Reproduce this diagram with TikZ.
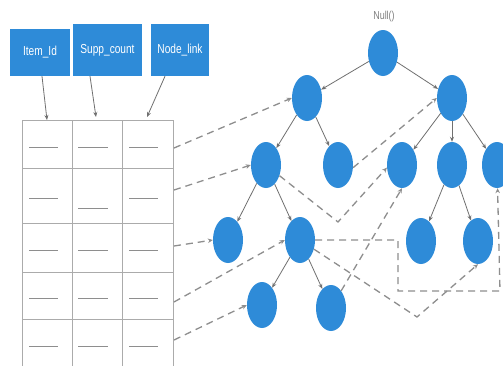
\documentclass[tikz,border=0pt]{standalone}
\usepackage{fontspec}
\setmainfont{Liberation Sans}
\usetikzlibrary{shapes.geometric,arrows.meta}
\definecolor{nodeblue}{HTML}{2E8BD8}
\definecolor{linegray}{HTML}{707070}
\definecolor{dashgray}{HTML}{8E8E8E}
\definecolor{tablegray}{HTML}{ABABAB}
\begin{document}
\begin{tikzpicture}[x=1pt,y=-1pt,
  tnode/.style={ellipse,fill=nodeblue,minimum width=30pt,minimum height=46pt,inner sep=0pt},
  hdr/.style={fill=nodeblue,text=white,inner sep=0pt,font=\fontsize{13}{13}\selectfont},
  solidarrow/.style={draw=linegray,line width=0.8pt,-{Stealth[length=5pt,width=4pt]}},
  linkarrow/.style={draw=dashgray,line width=1.3pt,dash pattern=on 7pt off 5pt,-{Stealth[length=5pt,width=4.5pt]}},
  cellmark/.style={draw=dashgray,line width=1pt},
  tableline/.style={draw=tablegray,line width=1pt}]
\useasboundingbox[fill=white] (0,0) rectangle (503,365);

% header boxes
\node[hdr,minimum width=60pt,minimum height=47pt] (h1) at (40,52.5) {\scalebox{0.78}[1]{Item\_Id}};
\node[hdr,minimum width=69pt,minimum height=52pt] (h2) at (107.5,50) {\scalebox{0.78}[1]{Supp\_count}};
\node[hdr,minimum width=58pt,minimum height=52pt] (h3) at (180,50) {\scalebox{0.78}[1]{Node\_link}};

% table
\draw[tableline] (22,120) -- (173,120);
\foreach \yy in {168,223,272,319} \draw[tableline] (22,\yy) -- (173,\yy);
\foreach \xx in {22,72,122,173} \draw[tableline] (\xx,120) -- (\xx,366);
\foreach \yy in {147,250,298,346} {
  \draw[cellmark] (29,\yy) -- (58,\yy);
  \draw[cellmark] (78,\yy) -- (108,\yy);
  \draw[cellmark] (129,\yy) -- (158,\yy);
}
\draw[cellmark] (29,198) -- (58,198);
\draw[cellmark] (78,208) -- (108,208);
\draw[cellmark] (129,198) -- (158,198);

\coordinate (t1) at (47,120);
\coordinate (t2) at (96,117);
\coordinate (t3) at (147,117);
\coordinate (r1) at (174,148);
\coordinate (r2) at (174,190);
\coordinate (r3) at (174,246);
\coordinate (r4) at (174,302);
\coordinate (r5) at (174,340);

\draw[solidarrow] ([xshift=2pt]h1.south) -- (t1);
\draw[solidarrow] ([xshift=-17.5pt]h2.south) -- (t2);
\draw[solidarrow] ([xshift=-15pt]h3.south) -- (t3);

% tree
\node[text=gray,font=\fontsize{11.5}{11.5}\selectfont] (nulllabel) at (384,17) {\scalebox{0.78}[1]{Null()}};
\node[tnode] (root) at (383,53) {};
\node[tnode] (a) at (307,98) {};
\node[tnode] (b) at (452,98) {};
\node[tnode] (c) at (266,165) {};
\node[tnode] (d) at (338,165) {};
\node[tnode] (e) at (402,165) {};
\node[tnode] (f) at (452,165) {};
\node[tnode] (g) at (497,165) {};
\node[tnode] (h) at (228,240) {};
\node[tnode] (i) at (300,240) {};
\node[tnode] (j) at (421,241) {};
\node[tnode] (k) at (478,241) {};
\node[tnode] (l) at (262,305) {};
\node[tnode] (m) at (331,308) {};

\foreach \p/\q in {root/a,root/b,a/c,a/d,b/e,b/f,b/g,c/h,c/i,f/j,f/k,i/l,i/m}
  \draw[solidarrow] (\p) -- (\q);

% node links
\draw[linkarrow] (r1) -- (a.west);
\draw[linkarrow] (r2) -- (c.west);
\draw[linkarrow] (r3) -- (h.west);
\draw[linkarrow] (r4) -- (i.west);
\draw[linkarrow] (r5) -- (l.west);
\draw[linkarrow] (c) -- (338,222) -- (e.190);
\draw[linkarrow] (d.-10) -- (b.west);
\draw[linkarrow] (i.east) -- (398,240) -- (398,291) -- (500,291) -- (g);
\draw[linkarrow] (i) -- (417,317) -- (k.south);
\draw[linkarrow] (m) -- (e.south);
\end{tikzpicture}
\end{document}
